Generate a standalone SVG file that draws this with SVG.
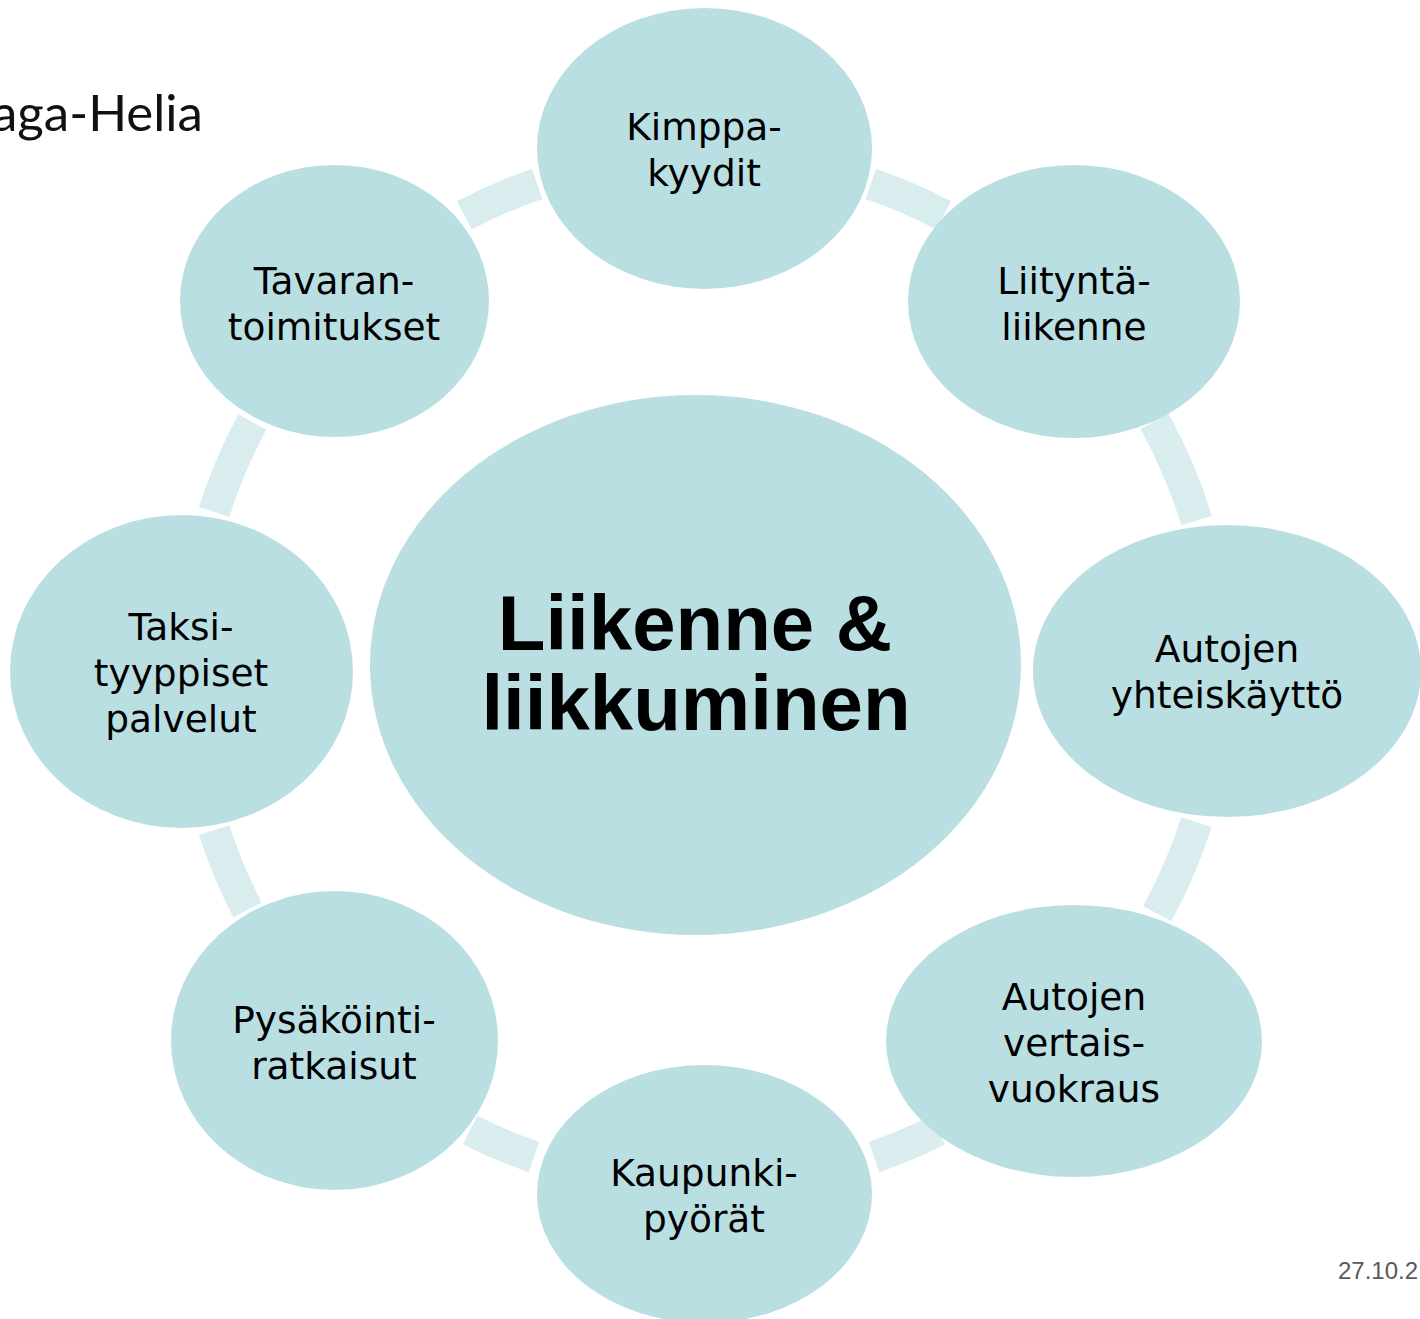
<svg xmlns="http://www.w3.org/2000/svg" width="1420" height="1319" viewBox="0 0 1420 1319">
<style>
.n{fill:#b9dfe3}
.c{fill:none;stroke:#d9edef;stroke-width:32;stroke-linecap:butt}
.t{font-family:"DejaVu Sans",Verdana,sans-serif;font-size:37.5px;fill:#000;text-anchor:middle}
.m{font-family:"Liberation Sans",Arial,sans-serif;font-size:78px;font-weight:bold;fill:#000;text-anchor:middle}
</style>
<rect width="1420" height="1319" fill="#fff"/>
<text x="-8" y="131" font-family="Lato,'Noto Sans',sans-serif" font-size="51" fill="#111">aga-Helia</text>
<text x="1338" y="1279" font-family="'Liberation Sans',Arial,sans-serif" font-size="24" fill="#595959">27.10.2</text>
<g id="connectors">
<path class="c" d="M 537.2 183.8 A 515 515 0 0 0 464.3 215.3"/>
<path class="c" d="M 870.8 183.8 A 515 515 0 0 1 943.7 215.3"/>
<path class="c" d="M 1154.4 421.3 A 515 515 0 0 1 1196.6 520.7"/>
<path class="c" d="M 1196.4 822.2 A 515 515 0 0 1 1157.3 913.6"/>
<path class="c" d="M 937.8 1130.1 A 515 515 0 0 1 874.0 1157.0"/>
<path class="c" d="M 470.2 1130.1 A 515 515 0 0 0 534.0 1157.0"/>
<path class="c" d="M 214.2 830.1 A 515 515 0 0 0 247.5 910.0"/>
<path class="c" d="M 252.4 422.1 A 515 515 0 0 0 214.2 511.9"/>
</g>
<g id="center"><ellipse class="n" cx="695.5" cy="665" rx="325.5" ry="270"/><text class="m" x="695" y="650">Liikenne &amp;</text><text class="m" x="696" y="730">liikkuminen</text></g>
<g id="kimppa"><ellipse class="n" cx="704.5" cy="148.5" rx="167.5" ry="140.5"/><text class="t" x="704" y="140">Kimppa-</text><text class="t" x="704" y="186">kyydit</text></g>
<g id="liitynta"><ellipse class="n" cx="1074" cy="301.5" rx="166" ry="136.5"/><text class="t" x="1074" y="294">Liityntä-</text><text class="t" x="1074" y="340">liikenne</text></g>
<g id="autojen-yht"><ellipse class="n" cx="1227" cy="671" rx="194" ry="146"/><text class="t" x="1227" y="662">Autojen</text><text class="t" x="1227" y="708">yhteiskäyttö</text></g>
<g id="vertais"><ellipse class="n" cx="1074" cy="1041" rx="188" ry="136"/><text class="t" x="1074" y="1010">Autojen</text><text class="t" x="1074" y="1056">vertais-</text><text class="t" x="1074" y="1102">vuokraus</text></g>
<g id="kaupunki"><ellipse class="n" cx="704.5" cy="1194" rx="167.5" ry="129"/><text class="t" x="704" y="1186">Kaupunki-</text><text class="t" x="704" y="1232">pyörät</text></g>
<g id="pysakointi"><ellipse class="n" cx="334.5" cy="1040.5" rx="163.5" ry="149.5"/><text class="t" x="334" y="1033">Pysäköinti-</text><text class="t" x="334" y="1079">ratkaisut</text></g>
<g id="taksi"><ellipse class="n" cx="181.5" cy="671.5" rx="171.5" ry="156.5"/><text class="t" x="181" y="640">Taksi-</text><text class="t" x="181" y="686">tyyppiset</text><text class="t" x="181" y="732">palvelut</text></g>
<g id="tavaran"><ellipse class="n" cx="334.5" cy="301" rx="154.5" ry="136"/><text class="t" x="334" y="294">Tavaran-</text><text class="t" x="334" y="340">toimitukset</text></g>
</svg>
